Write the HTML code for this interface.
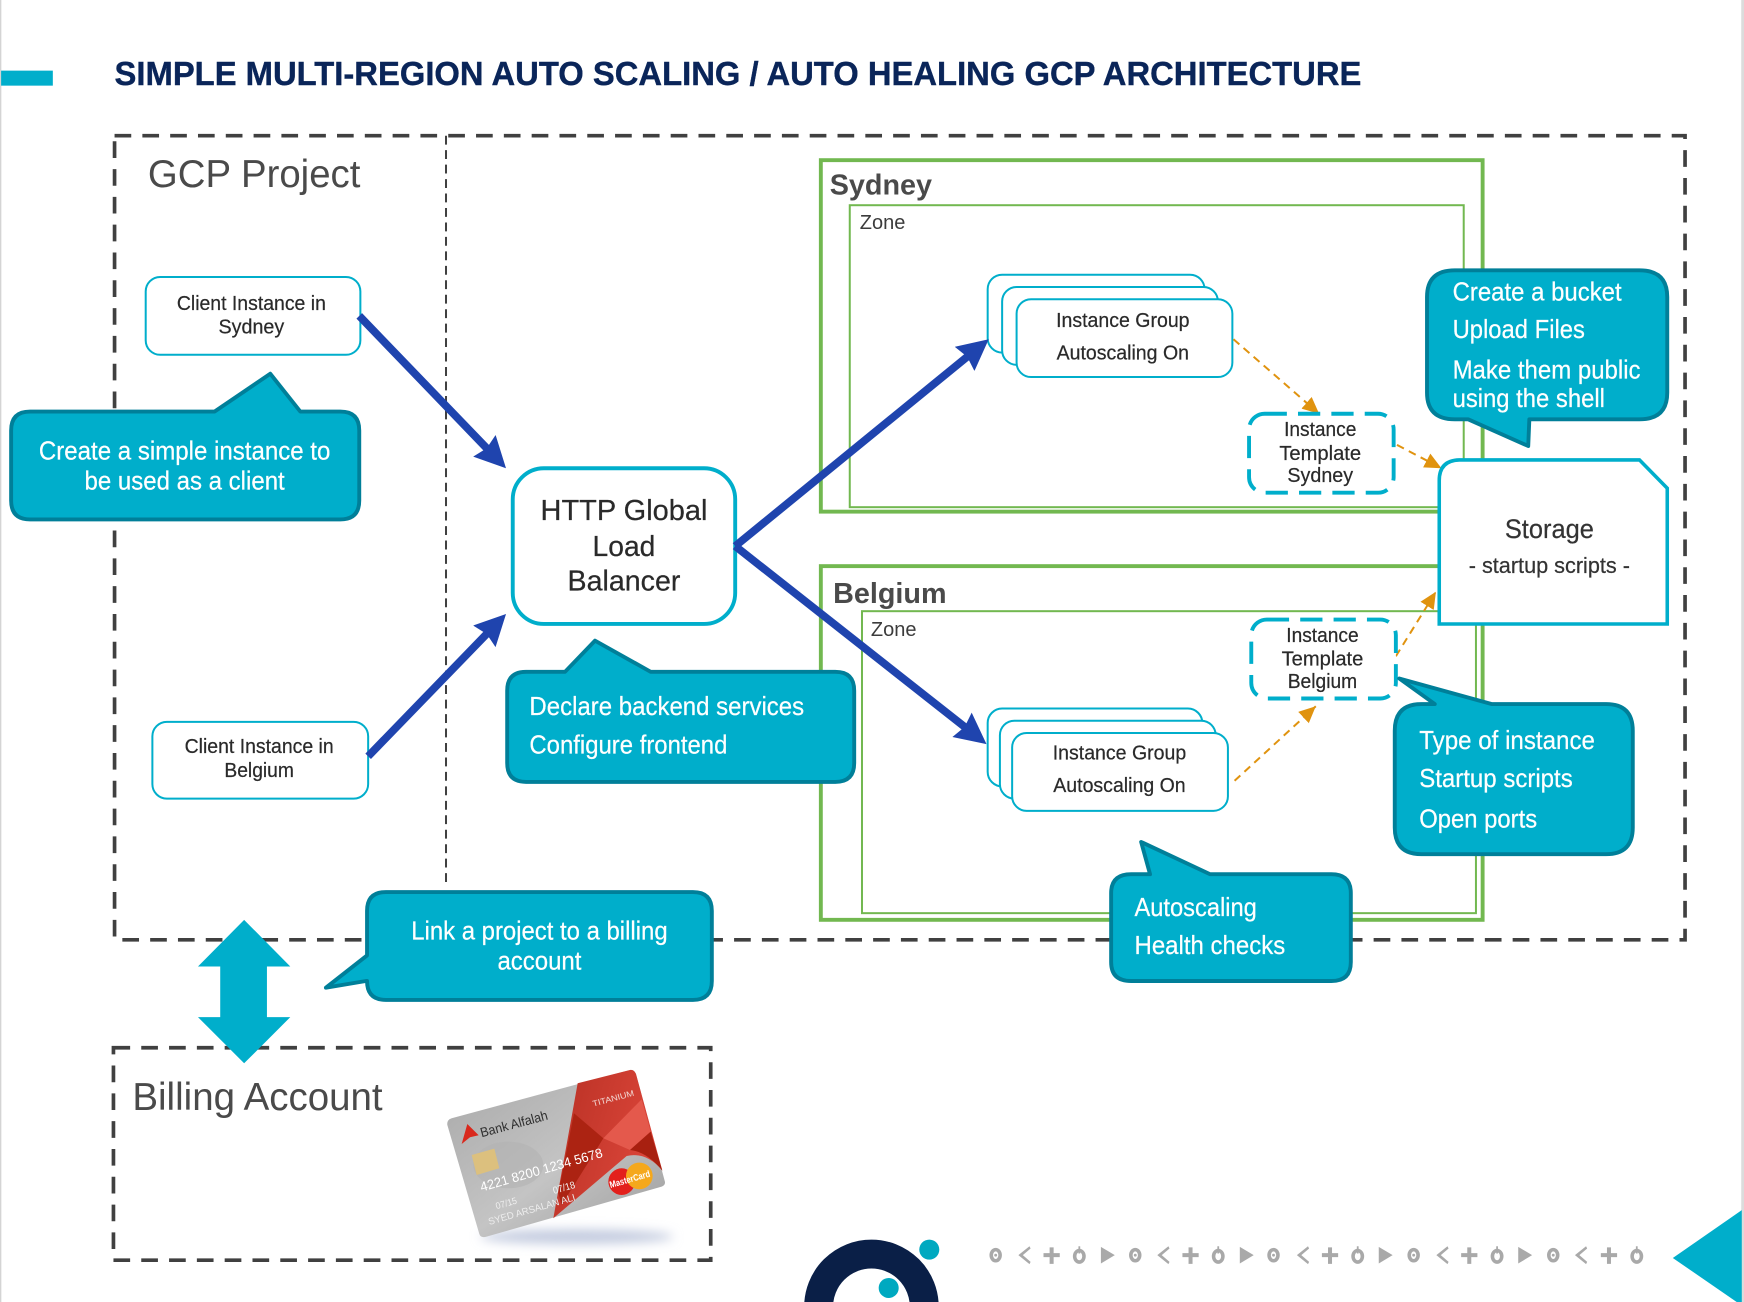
<!DOCTYPE html>
<html><head><meta charset="utf-8"><style>
html,body{margin:0;padding:0;background:#fff;width:1744px;height:1302px;overflow:hidden}
svg{display:block}
text{font-family:"Liberation Sans",sans-serif}
.n{font-size:18px;fill:#2a2a2a;stroke:#2a2a2a;stroke-width:.2;text-anchor:middle}
.c{font-size:23px;fill:#fff;stroke:#fff;stroke-width:.2}
.m{text-anchor:middle}
.co{fill:#00aecb;stroke:#007f99;stroke-width:3.5;stroke-linejoin:round}
.box{fill:#fff;stroke:#00aecb;stroke-width:1.8}
.icon{fill:#a9a9a9}
.ring{fill:#fff;stroke:#a9a9a9;stroke-width:3.2}
</style></head><body>
<svg xmlns="http://www.w3.org/2000/svg" width="1744" height="1302" viewBox="0 0 1568 1170.6">
<defs>
<marker id="b" markerUnits="userSpaceOnUse" markerWidth="32" markerHeight="30" refX="18" refY="14" orient="auto"><path d="M0,0 L28,14 L0,28 L3,14Z" fill="#1f44ae"/></marker>
<marker id="o" markerUnits="userSpaceOnUse" markerWidth="16" markerHeight="16" refX="15" refY="7" orient="auto"><path d="M0,0 L15,7 L0,14Z" fill="#e0930f"/></marker>
<linearGradient id="cg" x1="0" y1="0" x2="1" y2="1"><stop offset="0" stop-color="#a8a8a8"/><stop offset=".55" stop-color="#c4c4c4"/><stop offset="1" stop-color="#9c9c9c"/></linearGradient>
<linearGradient id="rg" x1="0" y1="0" x2="1" y2=".4"><stop offset="0" stop-color="#b83024"/><stop offset="1" stop-color="#dc463a"/></linearGradient>
<filter id="bl" x="-30%" y="-300%" width="160%" height="700%"><feGaussianBlur stdDeviation="16"/></filter>
<g id="r1"><ellipse class="ring" cx="0" cy="0" rx="4" ry="5"/><circle class="icon" cx="0" cy="0" r="1.300"/></g>
<g id="r2"><ellipse class="ring" cx="0" cy="1" rx="4.200" ry="5.200"/><rect class="icon" x="-.8" y="-8" width="1.600" height="6.500"/></g>
<path id="lt" class="icon" d="M5,-8 L-5,0 L5,8 L6,6 L-1,0 L6,-6Z"/>
<path id="pl" class="icon" d="M-1.800,-7 h3.600 v5.200 h5.500 v3.600 h-5.500 v6 h-3.600 v-6 h-5.500 v-3.600 h5.500Z"/>
<path id="tr" class="icon" d="M-6,-7.500 L6.500,0 L-6,7.500Z"/>
</defs>
<rect width="1568" height="1171" fill="#fff"/>
<rect x="0" y="0" width="1.2" height="1171" fill="#d4d4d4"/>
<rect x="1565.500" y="0" width="2.500" height="1171" fill="#dcdcdc"/>
<rect x="1" y="63.500" width="46.500" height="13.500" fill="#00aecb"/>
<text x="103" y="76.500" font-size="30" font-weight="700" fill="#0a2559" stroke="#0a2559" stroke-width=".35" textLength="1121" lengthAdjust="spacingAndGlyphs">SIMPLE MULTI-REGION AUTO SCALING / AUTO HEALING GCP ARCHITECTURE</text>

<rect x="103" y="122" width="1412" height="723" fill="none" stroke="#404040" stroke-width="3.300" stroke-dasharray="15 10"/>
<line x1="401" y1="122" x2="401" y2="797" stroke="#404040" stroke-width="1.800" stroke-dasharray="8 5"/>
<text x="133" y="168" font-size="35" fill="#4a4a4a" textLength="191" lengthAdjust="spacingAndGlyphs">GCP Project</text>

<!-- regions -->
<rect x="738" y="144" width="595" height="316" fill="none" stroke="#72b850" stroke-width="3.500"/>
<rect x="764" y="184.500" width="552" height="271.500" fill="none" stroke="#72b850" stroke-width="1.800"/>
<text x="746" y="175" font-size="26" font-weight="700" fill="#4a4a4a" textLength="92" lengthAdjust="spacingAndGlyphs">Sydney</text>
<text x="773" y="206" font-size="18" fill="#3c3c3c" textLength="41" lengthAdjust="spacingAndGlyphs">Zone</text>
<rect x="738" y="509" width="595" height="318" fill="none" stroke="#72b850" stroke-width="3.500"/>
<rect x="775" y="549.500" width="552" height="271.500" fill="none" stroke="#72b850" stroke-width="1.800"/>
<text x="749" y="542" font-size="26" font-weight="700" fill="#4a4a4a" textLength="102" lengthAdjust="spacingAndGlyphs">Belgium</text>
<text x="783" y="572" font-size="18" fill="#3c3c3c" textLength="41" lengthAdjust="spacingAndGlyphs">Zone</text>

<!-- client boxes -->
<rect class="box" x="131" y="249" width="193" height="70" rx="13"/>
<text class="n" x="226" y="278.500" textLength="134" lengthAdjust="spacingAndGlyphs">Client Instance in</text>
<text class="n" x="226" y="300" textLength="59" lengthAdjust="spacingAndGlyphs">Sydney</text>
<rect class="box" x="137" y="649" width="194" height="69" rx="13"/>
<text class="n" x="233" y="677" textLength="134" lengthAdjust="spacingAndGlyphs">Client Instance in</text>
<text class="n" x="233" y="698.500" textLength="62.500" lengthAdjust="spacingAndGlyphs">Belgium</text>

<!-- instance groups -->
<rect class="box" x="888" y="247" width="195" height="70" rx="13"/>
<rect class="box" x="901" y="258" width="194" height="70" rx="13"/>
<rect class="box" x="914" y="269" width="194" height="70" rx="13"/>
<text class="n" x="1009.500" y="294" textLength="120" lengthAdjust="spacingAndGlyphs">Instance Group</text>
<text class="n" x="1009.500" y="323" textLength="119" lengthAdjust="spacingAndGlyphs">Autoscaling On</text>
<rect class="box" x="888" y="637" width="193" height="70" rx="13"/>
<rect class="box" x="899" y="648" width="194" height="70" rx="13"/>
<rect class="box" x="910" y="659" width="194" height="70" rx="13"/>
<text class="n" x="1006.500" y="683" textLength="120" lengthAdjust="spacingAndGlyphs">Instance Group</text>
<text class="n" x="1006.500" y="712" textLength="119" lengthAdjust="spacingAndGlyphs">Autoscaling On</text>

<!-- orange dashed -->
<g fill="none" stroke="#e0930f" stroke-width="1.800" stroke-dasharray="7 5">
<line x1="1109" y1="305" x2="1186" y2="372" marker-end="url(#o)"/>
<line x1="1256" y1="400" x2="1296" y2="421" marker-end="url(#o)"/>
<line x1="1255" y1="590" x2="1291" y2="532" marker-end="url(#o)"/>
<line x1="1110" y1="702" x2="1183" y2="635" marker-end="url(#o)"/>
</g>

<!-- templates -->
<rect x="1123" y="372" width="130" height="71" rx="14" fill="#fff" stroke="#00aecb" stroke-width="3.500" stroke-dasharray="20 10"/>
<text class="n" x="1187" y="392" textLength="65" lengthAdjust="spacingAndGlyphs">Instance</text>
<text class="n" x="1187" y="413.500" textLength="73.500" lengthAdjust="spacingAndGlyphs">Template</text>
<text class="n" x="1187" y="433.500" textLength="59" lengthAdjust="spacingAndGlyphs">Sydney</text>
<rect x="1125" y="557" width="130" height="71" rx="14" fill="#fff" stroke="#00aecb" stroke-width="3.500" stroke-dasharray="20 10"/>
<text class="n" x="1189" y="577" textLength="65" lengthAdjust="spacingAndGlyphs">Instance</text>
<text class="n" x="1189" y="598.500" textLength="73.500" lengthAdjust="spacingAndGlyphs">Template</text>
<text class="n" x="1189" y="618.500" textLength="62.500" lengthAdjust="spacingAndGlyphs">Belgium</text>

<!-- storage -->
<path d="M1294,561 V432 Q1294,414 1312,413.500 H1474 L1499,439 V561Z" fill="#fff" stroke="#00aecb" stroke-width="3.200" stroke-linejoin="miter"/>
<text class="m" x="1393" y="483.500" font-size="24" fill="#333" stroke="#333" stroke-width=".2" textLength="80" lengthAdjust="spacingAndGlyphs">Storage</text>
<text class="m" x="1393" y="515" font-size="20" fill="#333" stroke="#333" stroke-width=".2" textLength="145" lengthAdjust="spacingAndGlyphs">- startup scripts -</text>

<!-- load balancer -->
<rect x="461" y="421" width="200" height="140" rx="28" fill="#fff" stroke="#00aecb" stroke-width="3.500"/>
<text class="m" x="561" y="467.500" font-size="26" fill="#2a2a2a" stroke="#2a2a2a" stroke-width=".2" textLength="150" lengthAdjust="spacingAndGlyphs">HTTP Global</text>
<text class="m" x="561" y="500" font-size="26" fill="#2a2a2a" stroke="#2a2a2a" stroke-width=".2" textLength="56.500" lengthAdjust="spacingAndGlyphs">Load</text>
<text class="m" x="561" y="531" font-size="26" fill="#2a2a2a" stroke="#2a2a2a" stroke-width=".2" textLength="101.500" lengthAdjust="spacingAndGlyphs">Balancer</text>

<!-- blue arrows -->
<g fill="none" stroke="#1f44ae" stroke-width="7">
<line x1="323" y1="284" x2="448" y2="413.800" marker-end="url(#b)"/>
<line x1="331" y1="680" x2="448" y2="559.200" marker-end="url(#b)"/>
<line x1="661" y1="491" x2="881.200" y2="311.300" marker-end="url(#b)"/>
<line x1="661" y1="491" x2="879.100" y2="662.800" marker-end="url(#b)"/>
</g>

<!-- callouts -->
<path class="co" d="M27,370 H193 L243,336 L270,370 H306 Q323,370 323,387 V450 Q323,467 306,467 H27 Q10,467 10,450 V387 Q10,370 27,370Z"/>
<text class="c m" x="166" y="413" textLength="262" lengthAdjust="spacingAndGlyphs">Create a simple instance to</text>
<text class="c m" x="166" y="440" textLength="180" lengthAdjust="spacingAndGlyphs">be used as a client</text>

<path class="co" d="M473,604 H508 L535,576 L585,604 H751 Q768,604 768,621 V686 Q768,703 751,703 H473 Q456,703 456,686 V621 Q456,604 473,604Z"/>
<text class="c" x="476" y="643" textLength="247" lengthAdjust="spacingAndGlyphs">Declare backend services</text>
<text class="c" x="476" y="677.500" textLength="178" lengthAdjust="spacingAndGlyphs">Configure frontend</text>

<path class="co" d="M347,802 H623 Q640,802 640,819 V882 Q640,899 623,899 H347 Q330,899 330,882 L329,882 L293,888 L330,859 V819 Q330,802 347,802Z"/>
<text class="c m" x="485" y="844.700" textLength="230.500" lengthAdjust="spacingAndGlyphs">Link a project to a billing</text>
<text class="c m" x="485" y="871.600" textLength="75.500" lengthAdjust="spacingAndGlyphs">account</text>

<path class="co" d="M1017,786 H1034 L1026,757 L1088,786 H1197 Q1214.500,786 1214.500,803 V865 Q1214.500,882 1197,882 H1017 Q999,882 999,865 V803 Q999,786 1017,786Z"/>
<text class="c" x="1020" y="823.500" textLength="110" lengthAdjust="spacingAndGlyphs">Autoscaling</text>
<text class="c" x="1020" y="857.800" textLength="135.500" lengthAdjust="spacingAndGlyphs">Health checks</text>

<path class="co" d="M1278,633 H1290 L1258,610 L1341,633 H1444 Q1468,633 1468,657 V744 Q1468,768 1444,768 H1278 Q1254,768 1254,744 V657 Q1254,633 1278,633Z"/>
<text class="c" x="1276" y="673.400" textLength="158" lengthAdjust="spacingAndGlyphs">Type of instance</text>
<text class="c" x="1276" y="707.700" textLength="138" lengthAdjust="spacingAndGlyphs">Startup scripts</text>
<text class="c" x="1276" y="744" textLength="106" lengthAdjust="spacingAndGlyphs">Open ports</text>

<path class="co" d="M1308,243 H1474 Q1499,243 1499,267 V353 Q1499,377 1474,377 H1375 L1374,401 L1320,377 H1308 Q1283,377 1283,353 V267 Q1283,243 1308,243Z"/>
<text class="c" x="1306" y="270" textLength="152" lengthAdjust="spacingAndGlyphs">Create a bucket</text>
<text class="c" x="1306" y="304" textLength="119" lengthAdjust="spacingAndGlyphs">Upload Files</text>
<text class="c" x="1306" y="340.500" textLength="169" lengthAdjust="spacingAndGlyphs">Make them public</text>
<text class="c" x="1306" y="366" textLength="137" lengthAdjust="spacingAndGlyphs">using the shell</text>

<!-- billing -->
<rect x="102" y="942" width="537" height="191" fill="none" stroke="#404040" stroke-width="3.300" stroke-dasharray="15 10"/>
<text x="119" y="998" font-size="35" fill="#4a4a4a" textLength="225" lengthAdjust="spacingAndGlyphs">Billing Account</text>
<path d="M219.500,827 L261,869 H240 V914.500 H261 L219.500,956 L178,914.500 H198 V869 H178Z" fill="#00aecb"/>

<!-- credit card -->
<g transform="translate(386.600 944) scale(.2997)">
<ellipse cx="440" cy="560" rx="290" ry="22" fill="#c3cbdf" filter="url(#bl)"/>
<path d="M65,205 L600,60 Q612,58 618,72 L705,396 Q706,405 695,410 L170,560 Q152,565 148,552 L52,225 Q50,210 65,205Z" fill="url(#cg)"/>
<ellipse cx="235" cy="345" rx="105" ry="70" fill="#b2b2b2" opacity=".6"/>
<path d="M443,100 L600,60 Q612,58 618,72 L697,362 Q650,305 590,318 L370,505Z" fill="url(#rg)"/>
<path d="M432,190 L520,265 L395,465 L385,430Z" fill="#ac2312"/>
<path d="M520,265 L635,148 L662,245 L600,300Z" fill="#e4594c"/>
<path d="M600,300 L662,245 L697,362 Q650,305 600,300Z" fill="#a82010"/>
<path d="M125,315 L193,296 L208,355 L140,375Z" fill="#dcc07e"/>
<path d="M95,282 L112,222 L146,256 L120,262Z" fill="#d9281c"/>
<text x="155" y="262" font-size="40" fill="#2f2f2f" transform="rotate(-15 155 262)" textLength="208" lengthAdjust="spacingAndGlyphs">Bank Alfalah</text>
<text x="490" y="170" font-size="25" fill="#f2d8d4" transform="rotate(-15 490 170)" textLength="128" lengthAdjust="spacingAndGlyphs">TITANIUM</text>
<text x="155" y="425" font-size="40" fill="#fff" transform="rotate(-16 155 425)" textLength="380" lengthAdjust="spacingAndGlyphs">4221 8200 1234 5678</text>
<text x="200" y="478" font-size="28" fill="#f0f0f0" transform="rotate(-16 200 478)" textLength="65" lengthAdjust="spacingAndGlyphs">07/15</text>
<text x="372" y="432" font-size="30" fill="#f5f5f5" transform="rotate(-16 372 432)" textLength="68" lengthAdjust="spacingAndGlyphs">07/18</text>
<text x="178" y="525" font-size="29" fill="#ededed" transform="rotate(-16 178 525)" textLength="270" lengthAdjust="spacingAndGlyphs">SYED ARSALAN ALI</text>
<circle cx="575" cy="395" r="40" fill="#e3201c"/>
<circle cx="628" cy="378" r="40" fill="#f5a81c"/>
<text x="542" y="414" font-size="28" font-weight="700" fill="#fff" transform="rotate(-16 542 414)" textLength="125" lengthAdjust="spacingAndGlyphs">MasterCard</text>
</g>

<!-- footer logo -->
<circle cx="783.500" cy="1175" r="47.500" fill="none" stroke="#0a1f47" stroke-width="26"/>
<ellipse cx="835.500" cy="1123.500" rx="9" ry="9" fill="#00a9c0"/>
<ellipse cx="799" cy="1158" rx="9" ry="9" fill="#00a9c0"/>

<!-- footer icons -->
<g transform="translate(0 1128.500)">
<use href="#r1" x="895.200"/><use href="#lt" x="920.600"/><use href="#pl" x="945.500"/><use href="#r2" x="970.400"/><use href="#tr" x="995.800"/>
<use href="#r1" x="1020.700"/><use href="#lt" x="1045.500"/><use href="#pl" x="1070.400"/><use href="#r2" x="1095.300"/><use href="#tr" x="1120.700"/>
<use href="#r1" x="1145"/><use href="#lt" x="1171"/><use href="#pl" x="1195.800"/><use href="#r2" x="1220.700"/><use href="#tr" x="1245.600"/>
<use href="#r1" x="1271"/><use href="#lt" x="1296.400"/><use href="#pl" x="1321"/><use href="#r2" x="1346"/><use href="#tr" x="1371"/>
<use href="#r1" x="1396.500"/><use href="#lt" x="1421"/><use href="#pl" x="1446.600"/><use href="#r2" x="1471.600"/>
</g>

<path d="M1504,1131 L1566,1088 V1171 H1562Z" fill="#00aecb"/>
</svg>
</body></html>
